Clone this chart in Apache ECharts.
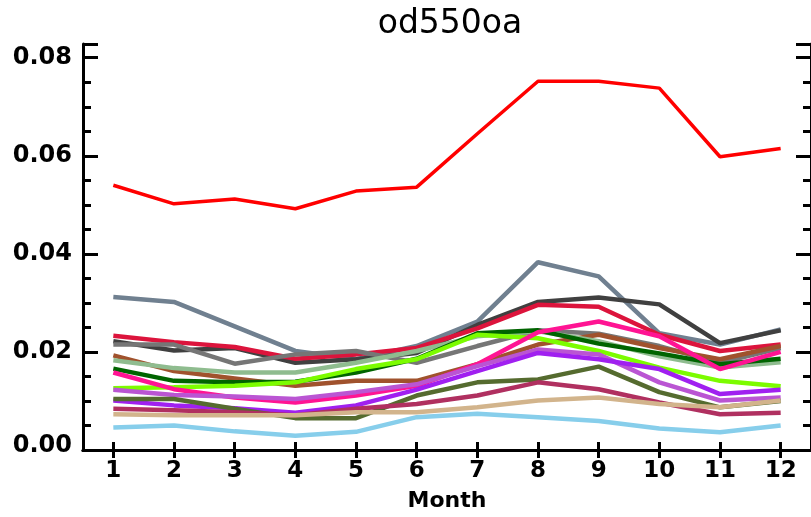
<!DOCTYPE html>
<html>
<head>
<meta charset="utf-8">
<script src="https://cdn.jsdelivr.net/npm/echarts@6/dist/echarts.min.js"></script>
<style>html,body{margin:0;padding:0;background:#fff;}#c{width:811px;height:517px;}</style>
</head>
<body>
<div id="c"></div>
<script>
var months = ['1','2','3','4','5','6','7','8','9','10','11','12'];
var yTicks = [0.00, 0.02, 0.04, 0.06, 0.08];

var sRed       = [0.0540,0.0502,0.0512,0.0492,0.0528,0.0536,0.0645,0.0752,0.0752,0.0738,0.0598,0.0615];
var sSlate     = [0.0312,0.0302,0.0252,0.0202,0.0185,0.0212,0.0262,0.0383,0.0354,0.0238,0.0215,0.0246];
var sDarkGray  = [0.0222,0.0203,0.0208,0.0178,0.0185,0.0198,0.0255,0.0302,0.0311,0.0297,0.0218,0.0244];
var sCrimson   = [0.0233,0.0220,0.0210,0.0186,0.0195,0.0208,0.0248,0.0296,0.0292,0.0235,0.0202,0.0215];
var sGray      = [0.0215,0.0215,0.0176,0.0195,0.0202,0.0178,0.0212,0.0244,0.0237,0.0212,0.0178,0.0208];
var sBrown     = [0.0193,0.0161,0.0146,0.0131,0.0141,0.0141,0.0175,0.0215,0.0235,0.0208,0.0185,0.0212];
var sSeaGreen  = [0.0183,0.0167,0.0158,0.0158,0.0178,0.0202,0.0232,0.0242,0.0222,0.0191,0.0168,0.0179];
var sDarkGreen = [0.0166,0.0141,0.0138,0.0139,0.0158,0.0186,0.0238,0.0244,0.0217,0.0197,0.0175,0.0186];
var sLawnGreen = [0.0126,0.0128,0.0131,0.0138,0.0165,0.0185,0.0235,0.0228,0.0202,0.0168,0.0141,0.0130];
var sPink      = [0.0158,0.0124,0.0107,0.0097,0.0111,0.0131,0.0175,0.0240,0.0262,0.0232,0.0165,0.0200];
var sOrchid    = [0.0123,0.0112,0.0109,0.0104,0.0118,0.0134,0.0171,0.0205,0.0195,0.0138,0.0101,0.0107];
var sPurple    = [0.0101,0.0091,0.0085,0.0076,0.0091,0.0123,0.0161,0.0198,0.0185,0.0165,0.0114,0.0123];
var sOlive     = [0.0104,0.0104,0.0084,0.0065,0.0065,0.0111,0.0138,0.0144,0.0170,0.0118,0.0087,0.0100];
var sMaroon    = [0.0084,0.0081,0.0077,0.0071,0.0084,0.0094,0.0111,0.0138,0.0124,0.0097,0.0073,0.0076];
var sTan       = [0.0073,0.0071,0.0071,0.0071,0.0077,0.0077,0.0087,0.0101,0.0107,0.0094,0.0087,0.0101];
var sSkyBlue   = [0.0046,0.0050,0.0038,0.0029,0.0037,0.0067,0.0074,0.0067,0.0059,0.0044,0.0036,0.0050];

var seriesList = [
  {name:'red', data:sRed, color:'#FF0000', w:3.5},
  {name:'slate', data:sSlate, color:'#708090', w:4.5},
  {name:'darkgray', data:sDarkGray, color:'#404040', w:4.5},
  {name:'crimson', data:sCrimson, color:'#DC143C', w:4.5},
  {name:'gray', data:sGray, color:'#767676', w:4.5},
  {name:'brown', data:sBrown, color:'#A0522D', w:4.5},
  {name:'seagreen', data:sSeaGreen, color:'#8FBC8F', w:4.5},
  {name:'darkgreen', data:sDarkGreen, color:'#006400', w:4.5},
  {name:'lawngreen', data:sLawnGreen, color:'#7CFC00', w:4.5},
  {name:'pink', data:sPink, color:'#FF1493', w:4.5},
  {name:'orchid', data:sOrchid, color:'#BA55D3', w:4.5},
  {name:'purple', data:sPurple, color:'#A020F0', w:4.5},
  {name:'olive', data:sOlive, color:'#556B2F', w:4.5},
  {name:'maroon', data:sMaroon, color:'#B03060', w:4.5},
  {name:'tan', data:sTan, color:'#D2B48C', w:4.5},
  {name:'skyblue', data:sSkyBlue, color:'#87CEEB', w:4.5}
];

var YMAX = 0.0828;
var lineSt = {color:'#000', width:3};

function isMajor(v){
  for (var i=0;i<yTicks.length;i++){ if (Math.abs(v-yTicks[i])<1e-9) return i; }
  return -1;
}

var chart = echarts.init(document.getElementById('c'), null, {renderer:'canvas'});
chart.setOption({
  animation:false,
  backgroundColor:'#fff',
  title:{
    text:'od550oa', left:445, top:3, textAlign:'center',
    textStyle:{fontFamily:'DejaVu Sans', fontSize:33, fontWeight:'normal', color:'#000'}
  },
  grid:{left:83, top:44, width:731, height:412, containLabel:false},
  xAxis:[
    {type:'category', data:months, position:'bottom', boundaryGap:true,
     name:'Month', nameLocation:'middle', nameGap:40,
     nameTextStyle:{fontFamily:'DejaVu Sans', fontWeight:'bold', fontSize:22, color:'#000'},
     axisLine:{show:true, lineStyle:lineSt},
     axisTick:{show:true, alignWithLabel:true, inside:true, length:8, interval:0, lineStyle:{color:'#000', width:3}},
     axisLabel:{show:true, interval:0, margin:10, fontFamily:'DejaVu Sans', fontWeight:'bold', fontSize:23, color:'#000'},
     splitLine:{show:false}},
    {type:'category', data:months, position:'top', boundaryGap:true,
     axisLine:{show:true, lineStyle:lineSt},
     axisTick:{show:true, alignWithLabel:true, inside:true, length:8, interval:0, lineStyle:{color:'#000', width:3}},
     axisLabel:{show:false}, splitLine:{show:false}}
  ],
  yAxis:[
    {type:'value', position:'left', min:0, max:YMAX, interval:0.02,
     axisLine:{show:true, lineStyle:lineSt},
     axisTick:{show:true, inside:true, length:15, lineStyle:{color:'#000', width:3}},
     axisLabel:{show:true, margin:11, fontFamily:'DejaVu Sans', fontWeight:'bold', fontSize:24, color:'#000',
       formatter:function(v){
         var i = isMajor(v); if (i<0) return '';
         var s = yTicks[i].toFixed(2);
         return i===0 ? '{z|'+s+'}' : s;
       },
       rich:{z:{fontFamily:'DejaVu Sans', fontWeight:'bold', fontSize:24, color:'#000', padding:[0,0,8,0]}}
     },
     splitLine:{show:false}},
    {type:'value', position:'left', min:0, max:YMAX, interval:0.005,
     axisLine:{show:false},
     axisTick:{show:true, inside:true, length:8, lineStyle:{color:'#000', width:3}},
     axisLabel:{show:false}, splitLine:{show:false}},
    {type:'value', position:'right', min:0, max:YMAX, interval:0.02,
     axisLine:{show:true, lineStyle:lineSt},
     axisTick:{show:true, inside:true, length:15, lineStyle:{color:'#000', width:3}},
     axisLabel:{show:false}, splitLine:{show:false}},
    {type:'value', position:'right', min:0, max:YMAX, interval:0.005,
     axisLine:{show:false},
     axisTick:{show:true, inside:true, length:8, lineStyle:{color:'#000', width:3}},
     axisLabel:{show:false}, splitLine:{show:false}}
  ],
  series: seriesList.map(function(s){
    return {type:'line', name:s.name, data:s.data, xAxisIndex:0, yAxisIndex:0,
      symbol:'none', smooth:false,
      lineStyle:{color:s.color, width:s.w}, itemStyle:{color:s.color},
      emphasis:{disabled:true}};
  })
});
</script>
</body>
</html>
